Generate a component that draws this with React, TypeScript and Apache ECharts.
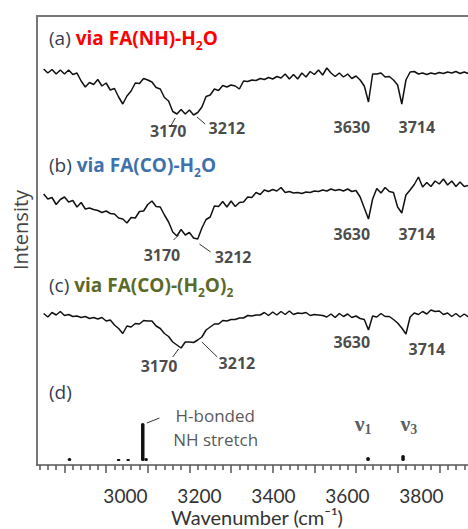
import { useEffect, useRef } from "react";
import * as echarts from "echarts";

// ---- data ----
const waveStart = 2850;
const waveStep = 10;

// (a) via FA(NH)-H2O
const spectrumA = [
  396, 392, 395.5, 391, 395, 391, 395, 390.5, 392, 384,
  378, 382.5, 380.5, 385.5, 379, 382, 375, 376.5, 368, 361,
  369, 374, 382, 381.5, 386.5, 385, 383, 377.5, 376, 367.5,
  364, 353.5, 351, 355.5, 351, 355, 350, 352.5, 358, 368.5,
  370, 376, 374.5, 379.5, 378, 380, 379, 376, 384, 383.5,
  385, 384.5, 386.5, 385.5, 387.5, 386, 388.5, 387, 391, 386,
  390.5, 386, 392, 388, 393.5, 390.5, 395, 390, 397, 392,
  388.5, 392, 388, 391, 386.5, 389, 385, 379, 363, 391,
  391, 392, 388, 388.5, 385, 380, 361, 385, 393, 393.5,
  391, 392, 390.5, 392, 391, 392.5, 391.5, 393, 392, 393.5,
  391.5, 393, 391.5,
];

// (b) via FA(CO)-H2O
const spectrumB = [
  271, 266, 267.5, 260.5, 265.5, 268, 263, 264.5, 258, 262.5,
  256, 257, 255.5, 254.5, 252.5, 254, 251.5, 251, 247, 246,
  242, 247.5, 247, 253.5, 254, 260.5, 264, 258.5, 258, 250,
  243, 233, 229, 235.5, 230, 232.5, 227, 226, 237, 245.5,
  248, 259, 258.5, 263.5, 258, 264, 258.5, 262.5, 263, 268,
  267.5, 272.5, 270.5, 275, 273.5, 275.5, 274, 277.5, 272.5, 273.5,
  272, 272.5, 271.5, 273, 272.5, 274, 273.5, 275, 274, 276,
  274.5, 275.5, 274, 276, 273.5, 274.5, 268, 257, 246, 266,
  276.5, 272, 277.5, 273.5, 272.5, 258, 252, 270, 275, 280.5,
  288, 278, 282.5, 278.5, 284, 281, 286, 280, 284, 278.5,
  283, 278.5, 279.5,
];

// (c) via FA(CO)-(H2O)2
const spectrumC = [
  151.5, 148, 152.5, 150, 153.5, 149.5, 150.5, 148.5, 149, 147.5,
  148.5, 146.5, 147.5, 146, 147.5, 144, 145, 140, 136.5, 131.5,
  139, 138, 141.5, 141, 144.5, 144, 144, 139, 136.5, 131.5,
  128.5, 123, 120, 117, 123, 123, 122.5, 125, 128, 135,
  138, 141, 141, 144.5, 144, 145.5, 145.5, 147, 147, 149.5,
  149, 150, 150, 152.5, 149.5, 153, 150, 153.5, 150.5, 154,
  150.5, 152, 151.5, 152.5, 149.5, 150.5, 150, 149.5, 148, 151,
  147.5, 151.5, 148.5, 151, 147.5, 149, 146.5, 145.5, 135, 149,
  148, 151.5, 148.5, 148.5, 145.5, 142, 137, 131, 148, 152,
  150.5, 153.5, 151, 155, 153.5, 154, 150.5, 152, 148.5, 151.5,
  148, 151, 148,
];

// (d) calculated sticks
const stickWavenumbers = [2912, 3030, 3053, 3088, 3096, 3629, 3713];
const stickIntensities = [3, 2, 2, 38, 3, 4, 6];
const stickBase = 4;

// axis ticks / labels
const majorTicks = [2900, 3000, 3100, 3200, 3300, 3400, 3500, 3600, 3700, 3800];
const minorTicks = [
  2840, 2860, 2880, 2920, 2940, 2960, 2980, 3020, 3040, 3060, 3080,
  3120, 3140, 3160, 3180, 3220, 3240, 3260, 3280, 3320, 3340, 3360, 3380,
  3420, 3440, 3460, 3480, 3520, 3540, 3560, 3580, 3620, 3640, 3660, 3680,
  3720, 3740, 3760, 3780, 3820, 3840, 3860,
];
const tickLabels = [3000, 3200, 3400, 3600, 3800];

// peak annotations [text, wavenumber, intensity]
const peakLabels: [string, number, number][] = [
  ["3170", 3149, 334], ["3212", 3290, 337], ["3630", 3590, 338], ["3714", 3746, 338],
  ["3170", 3134, 210], ["3212", 3305, 208], ["3630", 3590, 231], ["3714", 3746, 231],
  ["3170", 3127, 99], ["3212", 3314, 102], ["3630", 3590, 123], ["3714", 3770, 116],
];
const leaderLines: [number, number, number, number][] = [
  [3166, 347, 3154, 338], [3218, 348, 3238, 341],
  [3174, 230, 3162, 225], [3224, 221, 3251, 213],
  [3174, 116, 3160, 108], [3230, 123, 3267, 108],
  [3098, 42, 3128, 47],
];
const stickNotes: [string, number, number][] = [
  ["H-bonded", 3262, 50],
  ["NH stretch", 3263, 26],
];
const modeNotes: [string, string, number, number][] = [
  ["ν", "1", 3617, 42],
  ["ν", "3", 3727, 42],
];

const FONT = "'Open Sans', 'Noto Sans', sans-serif";
const AXISFONT = "Lato, 'Open Sans', sans-serif";
const SERIF = "'Liberation Serif', 'DejaVu Serif', serif";
const DARK = "#333d50";

export default function App() {
  const ref = useRef<HTMLDivElement>(null);
  useEffect(() => {
    if (!ref.current) return;
    const chart = echarts.init(ref.current, undefined, { renderer: "svg" });
    const wn = spectrumA.map((_, i) => waveStart + i * waveStep);
    const lineSeries = (name: string, vals: number[]) => ({
      name,
      type: "line",
      xAxisIndex: 0,
      yAxisIndex: 0,
      data: vals.map((v, i) => [wn[i], v]),
      showSymbol: false,
      symbol: "none",
      lineStyle: { color: "#111", width: 1.5 },
      silent: true,
    });

    const titleRich = (color: string) => ({
      p: { fontSize: 19, fontFamily: FONT, fill: DARK, color: DARK, lineHeight: 26 },
      b: { fontSize: 19, fontFamily: FONT, fontWeight: "bold", fill: color, color, lineHeight: 26 },
      s: { fontSize: 12, fontFamily: FONT, fontWeight: "bold", fill: color, color, lineHeight: 15, verticalAlign: "bottom" },
    });
    const titleText = (x: number, y: number, text: string, color: string) => ({
      type: "text",
      x,
      y,
      style: {
        text,
        rich: titleRich(color),
        align: "left",
        verticalAlign: "middle",
        textAlign: "left",
        textVerticalAlign: "middle",
      },
    });

    const option: any = {
      animation: false,
      backgroundColor: "#fff",
      grid: { left: 37, top: 16, right: 0, bottom: 64 },
      xAxis: [
        {
          type: "value", min: 2834, max: 3869, position: "bottom",
          axisLine: { show: true, onZero: false, lineStyle: { color: "#555", width: 1.5 } },
          axisTick: { show: true, customValues: majorTicks, length: 8, lineStyle: { color: "#555", width: 1.5 } },
          axisLabel: { show: false }, splitLine: { show: false },
        },
        {
          type: "value", min: 2834, max: 3869, position: "bottom",
          axisLine: { show: false, onZero: false },
          axisTick: { show: true, customValues: minorTicks, length: 5, lineStyle: { color: "#555", width: 1.5 } },
          axisLabel: { show: false }, splitLine: { show: false },
        },
        {
          type: "value", min: 2761, max: 3926, position: "bottom",
          axisLine: { show: false, onZero: false },
          axisTick: { show: false },
          axisLabel: {
            show: true, customValues: tickLabels, fontSize: 19, lineHeight: 19, color: "#333", fontFamily: AXISFONT, margin: 21,
            formatter: (v: number) => String(v),
          },
          splitLine: { show: false },
        },
        {
          type: "value", min: 2834, max: 3869, position: "top",
          axisLine: { show: true, onZero: false, lineStyle: { color: "#777", width: 2 } },
          axisTick: { show: false }, axisLabel: { show: false }, splitLine: { show: false },
        },
      ],
      yAxis: {
        type: "value", min: 0, max: 449,
        axisLine: { show: true, onZero: false, lineStyle: { color: "#777", width: 2 } },
        axisTick: { show: false }, axisLabel: { show: false }, splitLine: { show: false },
      },
      series: [
        lineSeries("(a) via FA(NH)-H2O", spectrumA),
        lineSeries("(b) via FA(CO)-H2O", spectrumB),
        lineSeries("(c) via FA(CO)-(H2O)2", spectrumC),
        {
          name: "(d) calculated",
          type: "custom",
          xAxisIndex: 0,
          yAxisIndex: 0,
          silent: true,
          data: stickWavenumbers.map((w, i) => [w, stickIntensities[i]]),
          encode: { x: 0, y: 1 },
          renderItem: (_p: any, api: any) => {
            const w = api.value(0);
            const h = api.value(1);
            const b = api.coord([w, stickBase]);
            const t = api.coord([w, stickBase + h]);
            const width = 3.5;
            return {
              type: "rect",
              shape: { x: t[0] - width / 2, y: t[1], width, height: b[1] - t[1], r: 1.6 },
              style: { fill: "#111" },
            };
          },
        },
        {
          name: "annotations",
          type: "scatter",
          xAxisIndex: 0,
          yAxisIndex: 0,
          silent: true,
          symbolSize: 1,
          itemStyle: { color: "transparent" },
          label: {
            show: true, position: "inside", fontFamily: FONT, fontWeight: "bold",
            fontSize: 16, color: "#1a1a1a",
          },
          data: [
            ...peakLabels.map(([t, w, v]) => ({ value: [w, v], label: { formatter: t } })),
            ...stickNotes.map(([t, w, v]) => ({
              value: [w, v],
              label: { formatter: t, fontWeight: "normal", fontSize: 17, color: "#2a2a2a" },
            })),
            ...modeNotes.map(([g, s, w, v]) => ({
              value: [w, v],
              label: {
                formatter: `{g|${g}}{s|${s}}`,
                rich: {
                  g: { fontFamily: SERIF, fontSize: 22, color: "#333", lineHeight: 26 },
                  s: { fontFamily: SERIF, fontSize: 14, color: "#333", lineHeight: 16, verticalAlign: "bottom" },
                },
              },
            })),
          ],
          markLine: {
            silent: true,
            symbol: ["none", "none"],
            label: { show: false },
            lineStyle: { color: "#333", width: 1, type: "solid" },
            data: leaderLines.map(([w1, v1, w2, v2]) => [{ coord: [w1, v1] }, { coord: [w2, v2] }]),
          },
        },
      ],
      graphic: [
        titleText(49, 38, "{p|(a) }{b|via FA(NH)-H}{s|2}{b|O}", "#ff0000"),
        titleText(49, 165, "{p|(b) }{b|via FA(CO)-H}{s|2}{b|O}", "#3f72ad"),
        titleText(49, 285, "{p|(c) }{b|via FA(CO)-(H}{s|2}{b|O)}{s|2}", "#5b6a28"),
        titleText(49, 392, "{p|(d)}", DARK),
        {
          type: "text",
          x: 20,
          y: 230,
          rotation: Math.PI / 2,
          style: {
            text: "Intensity",
            fontSize: 20,
            fontFamily: FONT,
            fill: "#444",
            align: "center",
            verticalAlign: "middle",
            textAlign: "center",
            textVerticalAlign: "middle",
          },
        },
        {
          type: "text",
          x: 257,
          y: 517,
          style: {
            text: "Wavenumber (cm⁻¹)",
            fontSize: 20,
            lineHeight: 20,
            fontFamily: AXISFONT,
            fill: "#333",
            align: "center",
            verticalAlign: "middle",
            textAlign: "center",
            textVerticalAlign: "middle",
          },
        },
      ],
    };
    chart.setOption(option);
    return () => chart.dispose();
  }, []);
  return (
    <div
      ref={ref}
      style={{ position: "fixed", left: 0, top: 0, width: 468, height: 529, background: "#fff" }}
    />
  );
}
